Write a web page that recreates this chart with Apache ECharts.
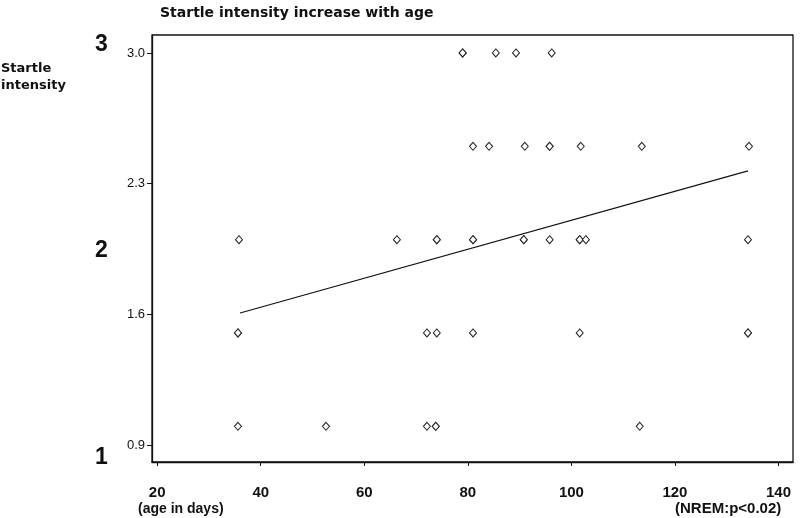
<!DOCTYPE html>
<html>
<head>
<meta charset="utf-8">
<script src="https://cdn.jsdelivr.net/npm/echarts@6/dist/echarts.min.js"></script>
<style>html,body{margin:0;padding:0;background:#fff}#c{width:800px;height:518px}</style>
</head>
<body>
<div id="c"></div>
<script>
// Data
const ageDays = [
  79, 79, 85.4, 89.3, 96.2,
  81, 84.1, 91, 95.8, 95.8, 101.8, 113.6, 134.3,
  35.8, 66.3, 74, 74, 81, 81, 90.8, 90.8, 95.8, 101.6, 101.6, 102.8, 134.1,
  35.6, 35.6, 72.1, 74, 81, 101.6, 134.1, 134.1,
  35.6, 52.6, 72.1, 73.8, 73.8, 113.2
];
const startle = [
  3, 3, 3, 3, 3,
  2.5, 2.5, 2.5, 2.5, 2.5, 2.5, 2.5, 2.5,
  2, 2, 2, 2, 2, 2, 2, 2, 2, 2, 2, 2, 2,
  1.5, 1.5, 1.5, 1.5, 1.5, 1.5, 1.5, 1.5,
  1, 1, 1, 1, 1, 1
];
const fitAge = [36, 134.1];
const fitValue = [1.607, 2.368];
const xTicks = [20, 40, 60, 80, 100, 120, 140];
const yTicks = [0.9, 1.6, 2.3, 3.0];
const bigLabels = ['3', '2', '1'];

const font = "'Liberation Sans', Arial, sans-serif";
const wide = "'DejaVu Sans', 'Liberation Sans', sans-serif";
const narrow = "'Liberation Sans Narrow', 'Liberation Sans', Arial, sans-serif";
const chart = echarts.init(document.getElementById('c'), null, {renderer: 'canvas'});
chart.setOption({
  animation: false,
  backgroundColor: '#fff',
  title: {
    text: 'Startle intensity increase with age',
    left: 155, top: 1,
    textStyle: {fontFamily: wide, fontSize: 14, fontWeight: 'bold', color: '#111'}
  },
  grid: {left: 152, right: 7, top: 35, bottom: 56, show: true, borderColor: '#111', borderWidth: 1.3},
  xAxis: {
    type: 'value', min: 19, max: 142.8,
    splitLine: {show: false},
    axisLine: {show: true, onZero: false, lineStyle: {color: '#111', width: 1.3}},
    axisTick: {show: true, customValues: xTicks, length: 4, lineStyle: {color: '#111'}},
    axisLabel: {customValues: xTicks, margin: 23, fontFamily: narrow, fontSize: 15, fontWeight: 'bold', color: '#111'}
  },
  yAxis: {
    type: 'value', min: 0.809, max: 3.096,
    splitLine: {show: false},
    axisLine: {show: true, onZero: false, lineStyle: {color: '#111', width: 1.3}},
    axisTick: {show: true, customValues: yTicks, length: 5, lineStyle: {color: '#111'}},
    axisLabel: {customValues: yTicks, margin: 7, fontFamily: font, fontSize: 13, color: '#111',
      formatter: v => Number(v).toFixed(1)}
  },
  graphic: [
    {type: 'text', left: 1, top: 60, style: {text: 'Startle\nintensity', font: 'bold 13px ' + wide, fill: '#111', lineHeight: 17}},
    {type: 'text', left: 95, top: 33, style: {text: bigLabels[0], font: 'bold 23px ' + font, fill: '#111'}},
    {type: 'text', left: 95, top: 239, style: {text: bigLabels[1], font: 'bold 23px ' + font, fill: '#111'}},
    {type: 'text', left: 95, top: 446, style: {text: bigLabels[2], font: 'bold 23px ' + font, fill: '#111'}},
    {type: 'text', left: 138, top: 502, style: {text: '(age in days)', font: 'bold 14px ' + font, fill: '#111'}},
    {type: 'text', left: 675, top: 501, style: {text: '(NREM:p<0.02)', font: 'bold 15px ' + font, fill: '#111'}}
  ],
  series: [
    {
      type: 'scatter',
      symbol: 'diamond',
      symbolSize: [7, 8],
      itemStyle: {color: '#fff', borderColor: '#222', borderWidth: 1, opacity: 1},
      data: ageDays.map((a, i) => [a, startle[i]]),
      z: 3
    },
    {
      type: 'line',
      showSymbol: false,
      symbol: 'none',
      lineStyle: {color: '#111', width: 1.2},
      data: fitAge.map((a, i) => [a, fitValue[i]]),
      z: 2
    }
  ]
});
</script>
</body>
</html>
